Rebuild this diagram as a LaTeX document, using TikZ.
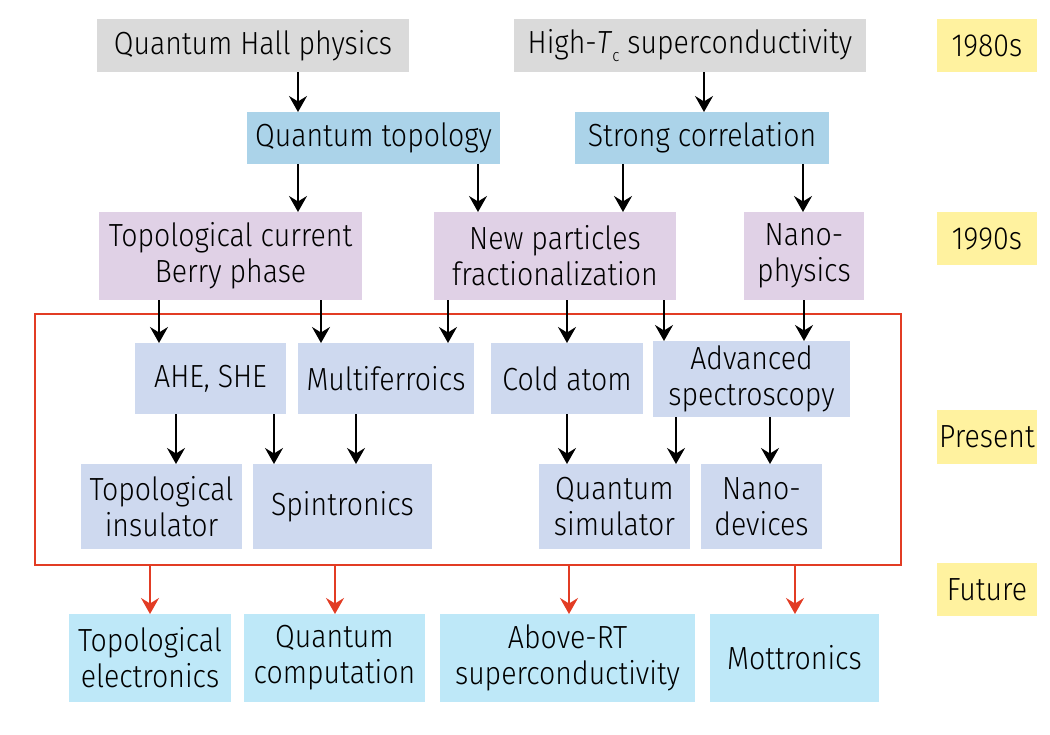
\documentclass[tikz,border=0pt]{standalone}
\usepackage{fontspec}
\setmainfont{Fira Sans}[UprightFont={* Light},ItalicFont={* Light Italic},FakeStretch=0.89]
\usetikzlibrary{arrows.meta}
\definecolor{cgrey}{HTML}{DADADA}
\definecolor{cblue}{HTML}{ABD3E9}
\definecolor{cpurple}{HTML}{E0D1E6}
\definecolor{clav}{HTML}{CED9EF}
\definecolor{ccyan}{HTML}{BEE8F8}
\definecolor{cyell}{HTML}{FFF29F}
\definecolor{cred}{HTML}{E23C24}
\tikzset{
  bx/.style={inner sep=0pt, outer sep=0pt, align=center, text=black,
    font=\fontsize{32}{36}\selectfont},
  arr/.style={line width=2pt, -{Stealth[length=16pt,width=18pt,inset=5.5pt]}},
  rarr/.style={arr, draw=cred, -{Stealth[length=16pt,width=18pt,inset=5.5pt,fill=cred]}},
}
\newcommand{\bxat}[7]{% name, fill, x1,y1,x2,y2, text
  \node[bx, fill=#2, minimum width={#5-#3}, minimum height={#6-#4}]
    (#1) at ({(#3+#5)/2},{(#4+#6)/2}) {#7};}
\begin{document}
\begin{tikzpicture}[x=1pt,y=-1pt]
\useasboundingbox[fill=white] (0,0) rectangle (1050,734);
% red frame
\node[draw=cred, line width=1.8pt, inner sep=0pt, minimum width=866, minimum height=251] (frame) at (468,439.5) {};
% boxes
\bxat{qhp}{cgrey}{97}{19}{409}{72}{Quantum Hall physics}
\bxat{htc}{cgrey}{514}{19}{866}{72}{High-\textit{T}\raisebox{-0.5ex}{\fontsize{17}{17}\selectfont c} superconductivity}
\bxat{qt}{cblue}{247}{112}{500}{164}{Quantum topology}
\bxat{sc}{cblue}{575}{112}{829}{164}{Strong correlation}
\bxat{tc}{cpurple}{99}{212}{362}{300}{Topological current\\Berry phase}
\bxat{np}{cpurple}{434}{212}{676}{300}{New particles\\fractionalization}
\bxat{nano}{cpurple}{744}{212}{864}{300}{Nano-\\physics}
\bxat{ahe}{clav}{135}{343}{286}{414}{AHE, SHE}
\bxat{mf}{clav}{298}{343}{474}{414}{Multiferroics}
\bxat{ca}{clav}{491}{343}{643}{414}{Cold atom}
\bxat{as}{clav}{653}{341}{850}{417}{Advanced\\spectroscopy}
\bxat{ti}{clav}{81}{464}{242}{549}{Topological\\insulator}
\bxat{sp}{clav}{253}{464}{432}{549}{Spintronics}
\bxat{qs}{clav}{539}{464}{690}{549}{Quantum\\simulator}
\bxat{nd}{clav}{701}{464}{822}{549}{Nano-\\devices}
\bxat{te}{ccyan}{69}{614}{231}{702}{Topological\\electronics}
\bxat{qc}{ccyan}{244}{614}{425}{702}{Quantum\\computation}
\bxat{art}{ccyan}{440}{614}{695}{702}{Above-RT\\superconductivity}
\bxat{mot}{ccyan}{710}{614}{879}{702}{Mottronics}
\bxat{y80}{cyell}{937}{19}{1037}{72}{1980s}
\bxat{y90}{cyell}{937}{212}{1037}{265}{1990s}
\bxat{pres}{cyell}{937}{410}{1037}{464}{Present}
\bxat{fut}{cyell}{937}{563}{1037}{616}{Future}
% arrows
\draw[arr] (qhp.south -| 298,0) -- (qt.north -| 298,0);
\draw[arr] (htc.south -| 704,0) -- (sc.north -| 704,0);
\draw[arr] (qt.south -| 298,0) -- (tc.north -| 298,0);
\draw[arr] (qt.south -| 478,0) -- (np.north -| 478,0);
\draw[arr] (sc.south -| 623,0) -- (np.north -| 623,0);
\draw[arr] (sc.south -| 803,0) -- (nano.north -| 803,0);
\draw[arr] (tc.south -| 159,0) -- (ahe.north -| 159,0);
\draw[arr] (tc.south -| 321,0) -- (mf.north -| 321,0);
\draw[arr] (np.south -| 448,0) -- (mf.north -| 448,0);
\draw[arr] (np.south -| 567,0) -- (ca.north -| 567,0);
\draw[arr] (np.south -| 664,0) -- (as.north -| 664,0);
\draw[arr] (nano.south -| 804,0) -- (as.north -| 804,0);
\draw[arr] (ahe.south -| 176,0) -- (ti.north -| 176,0);
\draw[arr] (ahe.south -| 274,0) -- (sp.north -| 274,0);
\draw[arr] (mf.south -| 356,0) -- (sp.north -| 356,0);
\draw[arr] (ca.south -| 567,0) -- (qs.north -| 567,0);
\draw[arr] (as.south -| 676,0) -- (qs.north -| 676,0);
\draw[arr] (as.south -| 770,0) -- (nd.north -| 770,0);
\draw[rarr] (frame.south -| 150,0) -- (te.north -| 150,0);
\draw[rarr] (frame.south -| 335,0) -- (qc.north -| 335,0);
\draw[rarr] (frame.south -| 569,0) -- (art.north -| 569,0);
\draw[rarr] (frame.south -| 795,0) -- (mot.north -| 795,0);
\end{tikzpicture}
\end{document}
